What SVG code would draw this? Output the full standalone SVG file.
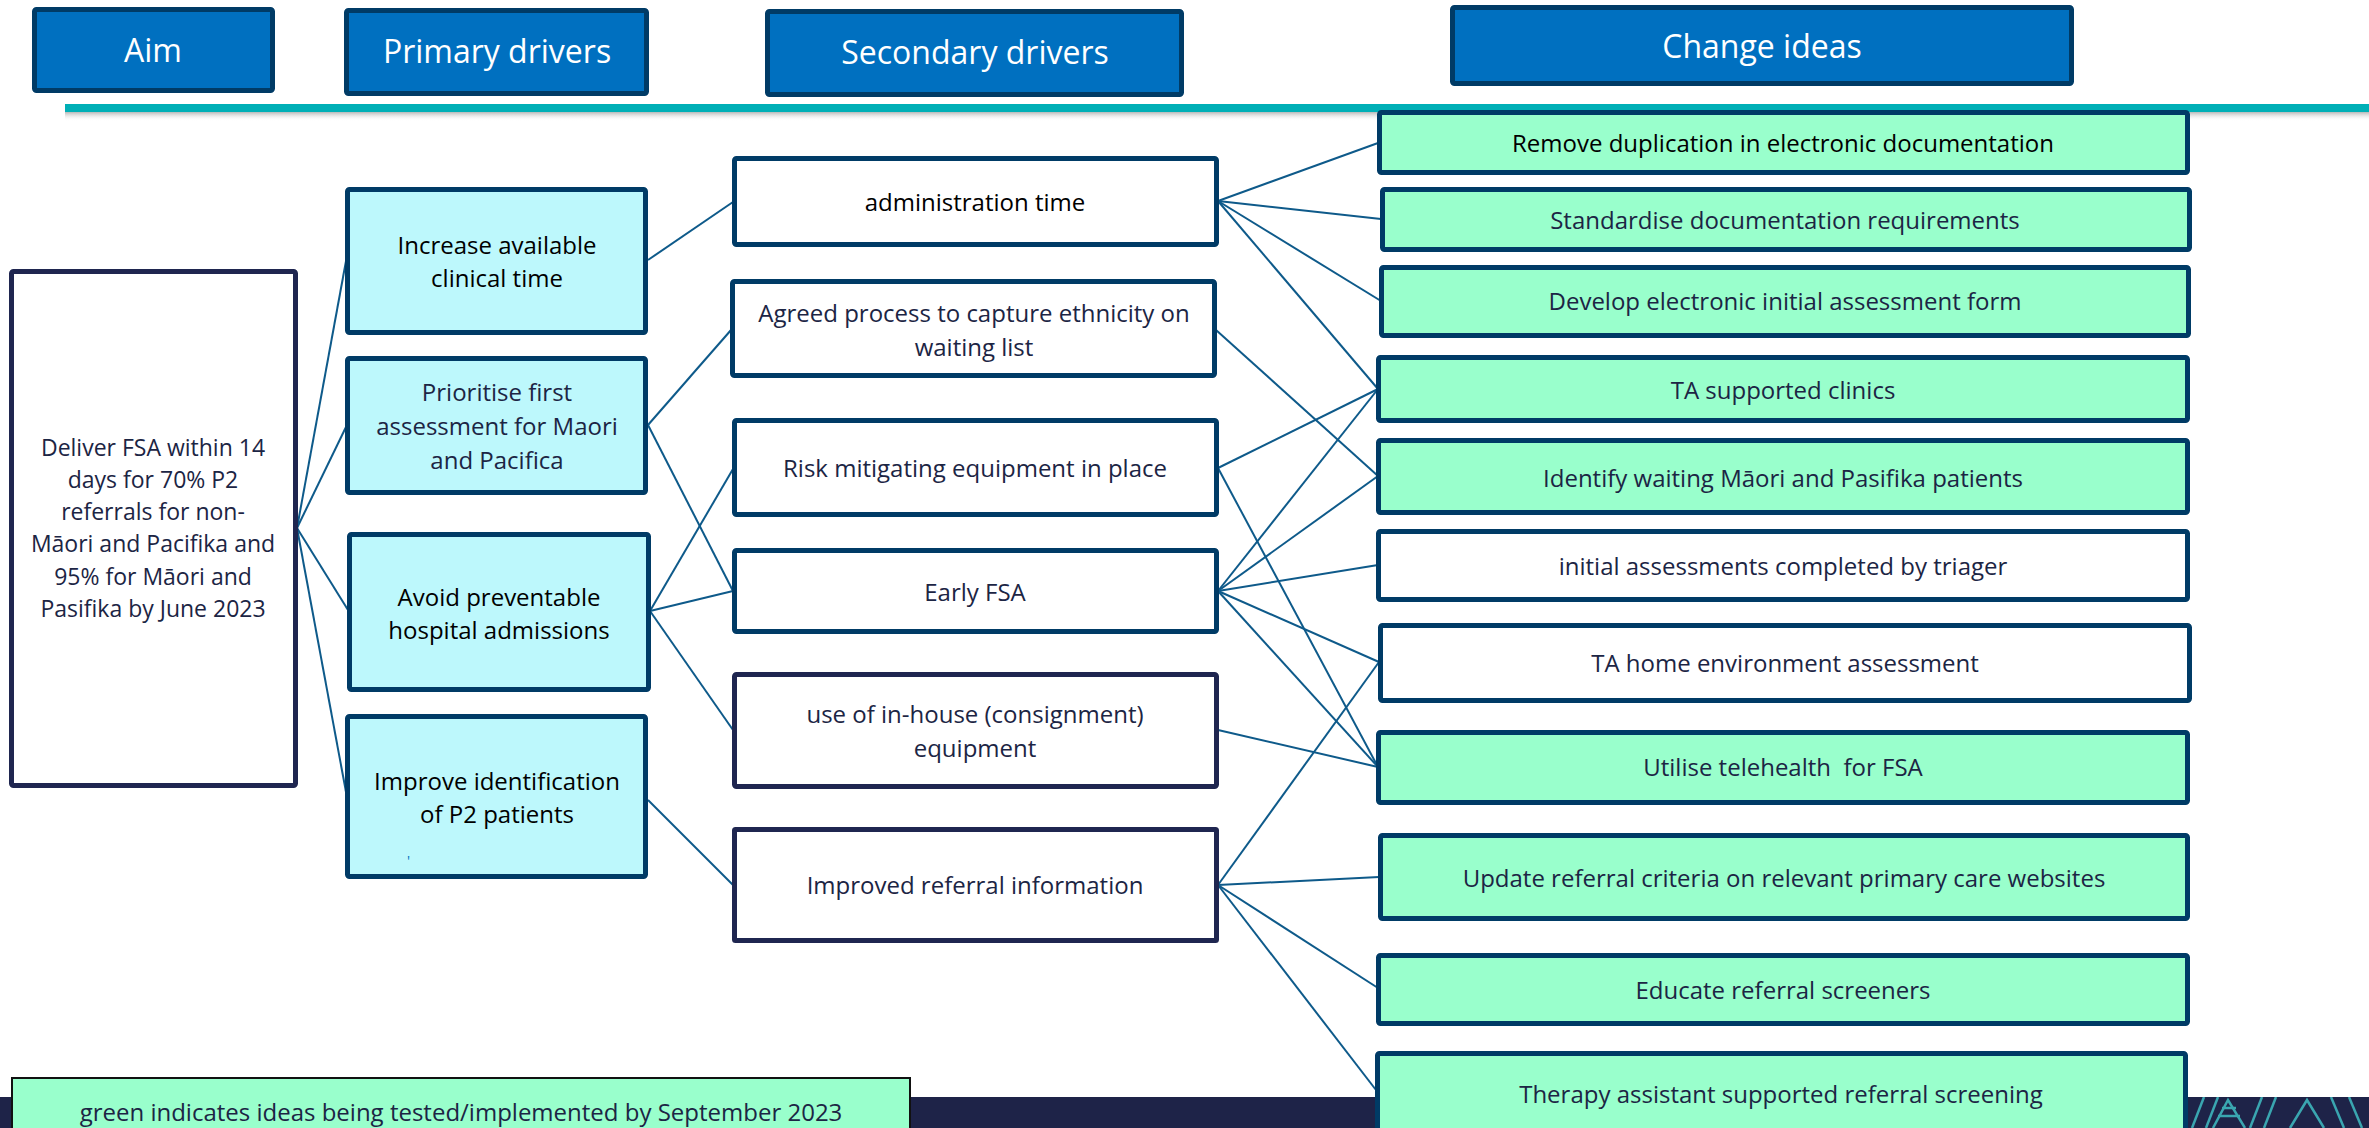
<svg xmlns="http://www.w3.org/2000/svg" width="2369" height="1128" viewBox="0 0 2369 1128">
<defs>
<style>
.hdr{fill:#0070C0;stroke:#003B66;stroke-width:5}
.hdrt{font-family:"Open Sans","Noto Sans",sans-serif;font-size:32px;fill:#FFFFFF;text-anchor:middle}
.aim{fill:#FFFFFF;stroke:#1F2650;stroke-width:5}
.pri{fill:#BDF8FC;stroke:#003B66;stroke-width:5}
.sec{fill:#FFFFFF;stroke:#003B66;stroke-width:5}
.sec2{fill:#FFFFFF;stroke:#1F2650;stroke-width:5}
.chg{fill:#99FFCC;stroke:#003B66;stroke-width:5}
.chw{fill:#FFFFFF;stroke:#003B66;stroke-width:5}
.t{font-family:"Open Sans","Noto Sans",sans-serif;font-size:24px;fill:#1C2544;text-anchor:middle}
.tb{fill:#000000}
.ta{font-size:23px}
.con line{stroke:#0E5A8A;stroke-width:2}
</style>
<linearGradient id="shadow" x1="0" y1="0" x2="0" y2="1">
<stop offset="0" stop-color="#9A9A9A" stop-opacity="0.7"/>
<stop offset="1" stop-color="#FFFFFF" stop-opacity="0"/>
</linearGradient>
<clipPath id="logoclip"><rect x="2190" y="1097" width="179" height="31"/></clipPath>
</defs>
<rect x="0" y="0" width="2369" height="1128" fill="#FFFFFF"/>

<!-- bottom band -->
<rect x="0" y="1097" width="2369" height="31" fill="#1E2348"/>
<g clip-path="url(#logoclip)" stroke="#3AA6B0" stroke-width="2.5" fill="none">
<line x1="2192" y1="1128" x2="2204" y2="1097"/>
<line x1="2206" y1="1128" x2="2218" y2="1097"/>
<path d="M2213 1128 L2228 1100 L2245 1128"/>
<line x1="2218" y1="1116" x2="2240" y2="1116"/>
<line x1="2222" y1="1108" x2="2236" y2="1108"/>
<line x1="2250" y1="1128" x2="2262" y2="1097"/>
<line x1="2264" y1="1128" x2="2276" y2="1097"/>
<path d="M2290 1128 L2307 1100 L2324 1128"/>
<line x1="2331" y1="1097" x2="2344" y2="1128"/>
<line x1="2349" y1="1097" x2="2362" y2="1128"/>
</g>

<!-- teal rule -->
<rect x="65" y="112" width="2304" height="9" fill="url(#shadow)"/>
<rect x="65" y="104" width="2304" height="8" fill="#00AFB6"/>

<!-- headers -->
<g id="hdr-aim"><rect class="hdr" x="34.5" y="9.5" width="238" height="81" rx="2"/><text class="hdrt" x="153" y="62">Aim</text></g>
<g id="hdr-primary"><rect class="hdr" x="346.5" y="10.5" width="300" height="83" rx="2"/><text class="hdrt" x="497" y="63">Primary drivers</text></g>
<g id="hdr-secondary"><rect class="hdr" x="767.5" y="11.5" width="414" height="83" rx="2"/><text class="hdrt" x="975" y="64">Secondary drivers</text></g>
<g id="hdr-change"><rect class="hdr" x="1452.5" y="7.5" width="619" height="76" rx="2"/><text class="hdrt" x="1762" y="58">Change ideas</text></g>

<!-- connectors -->
<g id="connectors" class="con">
<line x1="297" y1="528" x2="346" y2="261"/>
<line x1="297" y1="528" x2="346" y2="427"/>
<line x1="297" y1="528" x2="348" y2="610"/>
<line x1="297" y1="528" x2="346" y2="792"/>
<line x1="648" y1="260" x2="733" y2="202"/>
<line x1="648" y1="425" x2="731" y2="330"/>
<line x1="648" y1="425" x2="733" y2="591"/>
<line x1="650" y1="611" x2="733" y2="469"/>
<line x1="650" y1="611" x2="733" y2="591"/>
<line x1="650" y1="611" x2="733" y2="730"/>
<line x1="648" y1="800" x2="733" y2="885"/>
<line x1="1218" y1="201" x2="1378" y2="143"/>
<line x1="1218" y1="201" x2="1381" y2="219"/>
<line x1="1218" y1="201" x2="1381" y2="301"/>
<line x1="1218" y1="201" x2="1378" y2="389"/>
<line x1="1216" y1="330" x2="1378" y2="476"/>
<line x1="1218" y1="468" x2="1378" y2="389"/>
<line x1="1218" y1="468" x2="1378" y2="767"/>
<line x1="1218" y1="591" x2="1378" y2="389"/>
<line x1="1218" y1="591" x2="1378" y2="476"/>
<line x1="1218" y1="591" x2="1378" y2="565"/>
<line x1="1218" y1="591" x2="1379" y2="662"/>
<line x1="1218" y1="591" x2="1378" y2="767"/>
<line x1="1218" y1="730" x2="1378" y2="767"/>
<line x1="1218" y1="885" x2="1379" y2="662"/>
<line x1="1218" y1="885" x2="1379" y2="877"/>
<line x1="1218" y1="885" x2="1378" y2="988"/>
<line x1="1218" y1="885" x2="1376" y2="1090"/>
</g>

<!-- aim -->
<g id="aim">
<rect class="aim" x="11.5" y="271.5" width="284" height="514" rx="2"/>
<text class="t ta" x="153" y="456">Deliver FSA within 14</text>
<text class="t ta" x="153" y="488">days for 70% P2</text>
<text class="t ta" x="153" y="520">referrals for non-</text>
<text class="t ta" x="153" y="552">Māori and Pacifika and</text>
<text class="t ta" x="153" y="585">95% for Māori and</text>
<text class="t ta" x="153" y="617">Pasifika by June 2023</text>
</g>

<!-- primary drivers -->
<g id="p-increase"><rect class="pri" x="347.5" y="189.5" width="298" height="143" rx="2"/>
<text class="t tb" x="497" y="254">Increase available</text><text class="t tb" x="497" y="287">clinical time</text></g>
<g id="p-prioritise"><rect class="pri" x="347.5" y="358.5" width="298" height="134" rx="2"/>
<text class="t" x="497" y="401">Prioritise first</text><text class="t" x="497" y="435">assessment for Maori</text><text class="t" x="497" y="469">and Pacifica</text></g>
<g id="p-avoid"><rect class="pri" x="349.5" y="534.5" width="299" height="155" rx="2"/>
<text class="t tb" x="499" y="606">Avoid preventable</text><text class="t tb" x="499" y="639">hospital admissions</text></g>
<g id="p-improve"><rect class="pri" x="347.5" y="716.5" width="298" height="160" rx="2"/>
<text class="t tb" x="497" y="790">Improve identification</text><text class="t tb" x="497" y="823">of P2 patients</text>
<text x="407" y="866" font-family="Open Sans, sans-serif" font-size="14" fill="#0070C0">'</text></g>

<!-- secondary drivers -->
<g id="s-admin"><rect class="sec" x="734.5" y="158.5" width="482" height="86" rx="2"/>
<text class="t tb" x="975" y="211">administration time</text></g>
<g id="s-agreed"><rect class="sec" x="732.5" y="281.5" width="482" height="94" rx="2"/>
<text class="t" x="974" y="322">Agreed process to capture ethnicity on</text><text class="t" x="974" y="356">waiting list</text></g>
<g id="s-risk"><rect class="sec" x="734.5" y="420.5" width="482" height="94" rx="2"/>
<text class="t" x="975" y="477">Risk mitigating equipment in place</text></g>
<g id="s-early"><rect class="sec" x="734.5" y="550.5" width="482" height="81" rx="2"/>
<text class="t" x="975" y="601">Early FSA</text></g>
<g id="s-inhouse"><rect class="sec2" x="734.5" y="674.5" width="482" height="112" rx="2"/>
<text class="t" x="975" y="723">use of in-house (consignment)</text><text class="t" x="975" y="757">equipment</text></g>
<g id="s-referral"><rect class="sec2" x="734.5" y="829.5" width="482" height="111" rx="1" stroke-width="4"/>
<text class="t" x="975" y="894">Improved referral information</text></g>

<!-- change ideas -->
<g id="c-remove"><rect class="chg" x="1379.5" y="112.5" width="808" height="60" rx="2"/>
<text class="t tb" x="1783" y="152">Remove duplication in electronic documentation</text></g>
<g id="c-standardise"><rect class="chg" x="1382.5" y="189.5" width="807" height="60" rx="2"/>
<text class="t" x="1785" y="229">Standardise documentation requirements</text></g>
<g id="c-develop"><rect class="chg" x="1381.5" y="267.5" width="807" height="68" rx="2"/>
<text class="t" x="1785" y="310">Develop electronic initial assessment form</text></g>
<g id="c-taclinics"><rect class="chg" x="1378.5" y="357.5" width="809" height="63" rx="2"/>
<text class="t" x="1783" y="399">TA supported clinics</text></g>
<g id="c-identify"><rect class="chg" x="1378.5" y="440.5" width="809" height="72" rx="2"/>
<text class="t" x="1783" y="487">Identify waiting Māori and Pasifika patients</text></g>
<g id="c-initial"><rect class="chw" x="1378.5" y="531.5" width="809" height="68" rx="2"/>
<text class="t" x="1783" y="575">initial assessments completed by triager</text></g>
<g id="c-tahome"><rect class="chw" x="1380.5" y="625.5" width="809" height="75" rx="2"/>
<text class="t" x="1785" y="672">TA home environment assessment</text></g>
<g id="c-telehealth"><rect class="chg" x="1378.5" y="732.5" width="809" height="70" rx="2"/>
<text class="t" x="1783" y="776" xml:space="preserve">Utilise telehealth  for FSA</text></g>
<g id="c-update"><rect class="chg" x="1380.5" y="835.5" width="807" height="83" rx="2"/>
<text class="t" x="1784" y="887">Update referral criteria on relevant primary care websites</text></g>
<g id="c-educate"><rect class="chg" x="1378.5" y="955.5" width="809" height="68" rx="2"/>
<text class="t" x="1783" y="999">Educate referral screeners</text></g>
<g id="c-therapy"><rect class="chg" x="1377.5" y="1053.5" width="808" height="90" rx="2"/>
<text class="t" x="1781" y="1103">Therapy assistant supported referral screening</text></g>

<!-- legend -->
<g id="legend"><rect x="12" y="1078" width="898" height="60" fill="#99FFCC" stroke="#111111" stroke-width="2"/>
<text class="t" x="461" y="1121">green indicates ideas being tested/implemented by September 2023</text></g>
</svg>
